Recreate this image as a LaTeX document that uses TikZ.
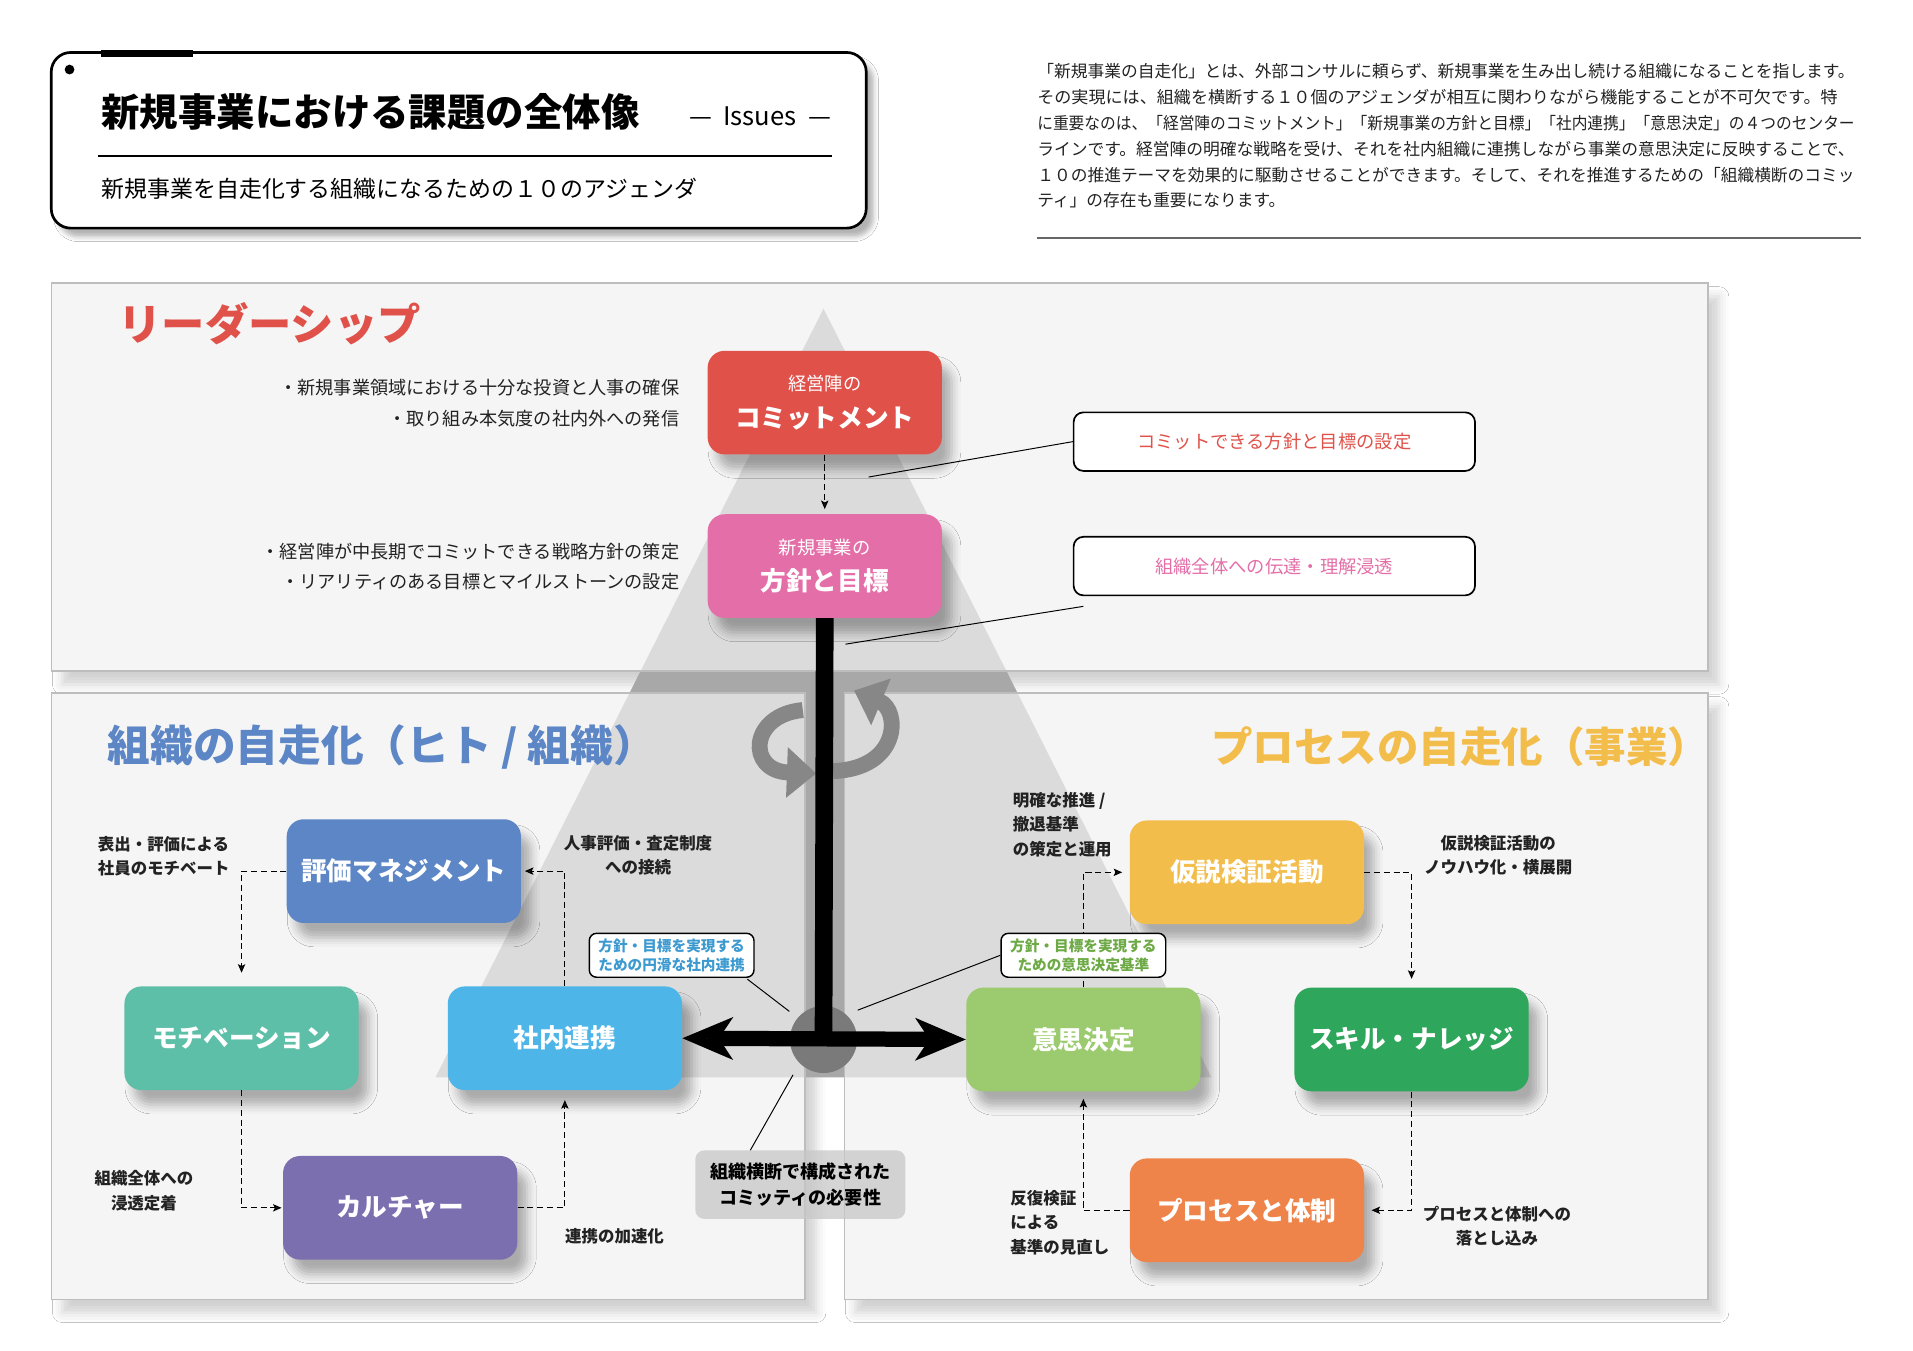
\documentclass[tikz,border=0pt]{standalone}
\usepackage{fontspec}
\usepackage{graphicx}
\setmainfont{Noto Sans CJK JP}
\usetikzlibrary{arrows.meta,shadows.blur,calc}
\definecolor{cRed}{HTML}{E0514A}
\definecolor{cPink}{HTML}{E46FA8}
\definecolor{cBlue}{HTML}{5C86C5}
\definecolor{cTeal}{HTML}{5EBFA8}
\definecolor{cSky}{HTML}{4DB5E8}
\definecolor{cPurple}{HTML}{7B6FB0}
\definecolor{cYellow}{HTML}{F3BD4C}
\definecolor{cLGreen}{HTML}{9BCB6E}
\definecolor{cGreen}{HTML}{2EA65B}
\definecolor{cOrange}{HTML}{EF844A}
\definecolor{cPanel}{HTML}{F5F5F5}
\definecolor{cPanelLine}{HTML}{BDBDBD}
\definecolor{cTri}{HTML}{A8A8A8}
\definecolor{cTxt}{HTML}{222222}
\definecolor{cCallBlue}{HTML}{3D9AD1}
\definecolor{cCallGreen}{HTML}{6DAA45}
\definecolor{cRot}{HTML}{878787}
\newcommand\fs[2]{\fontsize{#1}{#2}\selectfont}
\begin{document}
\begin{tikzpicture}[x=1pt,y=-1pt,
  box/.style={rounded corners=14pt, minimum width=192pt, minimum height=85pt, inner sep=0pt,
    text=white, align=center, font=\bfseries\fs{21}{26},
    blur shadow={shadow xshift=8pt,shadow yshift=-12pt,shadow blur radius=7.5pt,shadow opacity=30}},
  bul/.style={inner sep=0pt, text=cTxt, font=\fs{14.9}{18}},
  lbl/.style={inner sep=0pt, text=cTxt, font=\bfseries\fs{13.5}{20}},
  desc/.style={inner sep=0pt, anchor=west, text=cTxt, font=\fs{13.7}{16}},
  heading/.style={inner sep=0pt, font=\bfseries\fs{35.5}{40}},
  callbig/.style={draw, line width=1.4pt, fill=white, rounded corners=8pt, minimum width=329pt, minimum height=48pt, inner sep=0pt, font=\fs{15}{18}},
  callsmall/.style={draw, line width=1.2pt, fill=white, rounded corners=6pt, minimum width=135pt, minimum height=36pt, inner sep=0pt, align=center, font=\bfseries\fs{12}{16}},
  dcon/.style={line width=0.9pt, dash pattern=on 5pt off 3pt, -{Stealth[length=7pt,width=6pt,inset=1.5pt]}},
  thin/.style={line width=0.8pt},
  rotarrow/.style={draw=cRot, line width=13pt, -{Triangle[length=24pt,width=40pt]}},
  panelshadow/.style={blur shadow={shadow xshift=9pt,shadow yshift=-11pt,shadow blur radius=8pt,shadow opacity=18}}
]
\useasboundingbox (0,0) rectangle (1568,1107);
\fill[white] (0,0) rectangle (1568,1107);

% ---------- title box ----------
\node[draw, line width=2.2pt, rounded corners=16pt, fill=white, minimum width=668pt, minimum height=144pt,
  blur shadow={shadow xshift=6pt,shadow yshift=-7pt,shadow blur radius=4pt,shadow opacity=30}] (tbox) at (376,115) {};
\fill (83,41) rectangle (158,47);
\fill (57,57) circle (4);
\node[anchor=west, inner sep=0pt, font=\bfseries\fs{31.5}{36}] (ttl) at (83,92) {新規事業における課題の全体像};
\node[inner sep=0pt, font=\fs{21}{24}] (iss) at (623,95) {—\ \ Issues\ \ —};
\draw[line width=1.3pt] (80,128) -- (682,128);
\node[anchor=west, inner sep=0pt, font=\fs{18.8}{22}] (sub) at (83,155) {新規事業を自走化する組織になるための１０のアジェンダ};

% ---------- description ----------
\node[desc] (d1) at (850,58) {\resizebox{670pt}{\height}{「新規事業の自走化」とは、外部コンサルに頼らず、新規事業を生み出し続ける組織になることを指します。}};
\node[desc] (d2) at (850,79.3) {\resizebox{656pt}{\height}{その実現には、組織を横断する１０個のアジェンダが相互に関わりながら機能することが不可欠です。特}};
\node[desc] (d3) at (850,100.6) {\resizebox{670pt}{\height}{に重要なのは、「経営陣のコミットメント」「新規事業の方針と目標」「社内連携」「意思決定」の４つのセンター}};
\node[desc] (d4) at (850,122) {\resizebox{670pt}{\height}{ラインです。経営陣の明確な戦略を受け、それを社内組織に連携しながら事業の意思決定に反映することで、}};
\node[desc] (d5) at (850,143.2) {\resizebox{670pt}{\height}{１０の推進テーマを効果的に駆動させることができます。そして、それを推進するための「組織横断のコミッ}};
\node[desc] (d6) at (850,164.5) {ティ」の存在も重要になります。};
\draw[line width=1pt, black!60] (850,195) -- (1525,195);

% ---------- panels ----------
\fill[cPanel, panelshadow] (42,232) rectangle (1400,550);
\fill[cPanel, panelshadow] (42,568) rectangle (660,1065);
\fill[cPanel, panelshadow] (692,568) rectangle (1400,1065);
\fill[cTri] (675,253) -- (357,883) -- (993,883) -- cycle;
\filldraw[fill=cPanel, fill opacity=0.675, draw=cPanelLine, line width=1.2pt] (42,232) rectangle (1400,550);
\filldraw[fill=cPanel, fill opacity=0.675, draw=cPanelLine, line width=1.2pt] (42,568) rectangle (660,1065);
\filldraw[fill=cPanel, fill opacity=0.675, draw=cPanelLine, line width=1.2pt] (692,568) rectangle (1400,1065);

% ---------- headings ----------
\node[heading, anchor=west, text=cRed] (hLead) at (97,265) {リーダーシップ};
\node[heading, anchor=west, text=cBlue, font=\bfseries\fs{35}{40}] (hOrg) at (88,612) {組織の自走化（ヒト / 組織）};
\node[heading, anchor=east, text=cYellow, font=\bfseries\fs{34}{40}] (hProc) at (1401,612) {プロセスの自走化（事業）};

% ---------- leadership bullets ----------
\node[bul, anchor=east] (b1) at (557,318) {・新規事業領域における十分な投資と人事の確保};
\node[bul, anchor=east] (b2) at (557,343) {・取り組み本気度の社内外への発信};
\node[bul, anchor=east] (b3) at (557,452) {・経営陣が中長期でコミットできる戦略方針の策定};
\node[bul, anchor=east] (b4) at (557,477) {・リアリティのある目標とマイルストーンの設定};

% ---------- panel labels ----------
\node[lbl, anchor=west, align=left] (l1) at (80,702) {表出・評価による\\社員のモチベート};
\node[lbl, align=center] (l2) at (523,701) {人事評価・査定制度\\への接続};
\node[lbl, align=center] (l3) at (118,976) {組織全体への\\浸透定着};
\node[lbl, anchor=west] (l4) at (463,1013) {連携の加速化};
\node[lbl, anchor=west, align=left] (r1) at (830,676) {明確な推進 /\\撤退基準\\の策定と運用};
\node[lbl, align=center] (r2) at (1228,701) {仮説検証活動の\\ノウハウ化・横展開};
\node[lbl, anchor=west, align=left] (r3) at (828,1002) {反復検証\\による\\基準の見直し};
\node[lbl, align=center] (r4) at (1227,1005) {プロセスと体制への\\落とし込み};

% ---------- rotation arrows ----------
\draw[rotarrow] (658,582) .. controls (614,586) and (612,632) .. (669,634);
\draw[rotarrow] (683,632) .. controls (738,630) and (738,582) .. (700,566);

% ---------- boxes ----------
\node[box, fill=cRed] (commit) at (676,330) {{\mdseries\fs{15}{18}経営陣の}\\[4pt]コミットメント};
\node[box, fill=cPink] (policy) at (676,464) {{\mdseries\fs{15}{18}新規事業の}\\[4pt]方針と目標};
\node[box, fill=cBlue] (eval) at (331,714) {評価マネジメント};
\node[box, fill=cTeal] (motiv) at (198,851) {モチベーション};
\node[box, fill=cSky] (naibu) at (463,851) {社内連携};
\node[box, fill=cPurple] (cult) at (328,990) {カルチャー};
\node[box, fill=cYellow] (kasetsu) at (1022,715) {仮説検証活動};
\node[box, fill=cLGreen] (ishi) at (888,852) {意思決定};
\node[box, fill=cGreen] (skill) at (1157,852) {スキル・ナレッジ};
\node[box, fill=cOrange] (proc) at (1022,992) {プロセスと体制};

% ---------- center T ----------
\node[circle, fill=black!52, minimum size=55pt, inner sep=0pt] (hub) at (675,852) {};
\draw[line width=14.5pt] (policy.south) -- (hub.center);
\draw[line width=12.5pt, {Stealth[length=41pt,width=34pt,inset=11pt]}-{Stealth[length=41pt,width=34pt,inset=11pt]}] (naibu.east) -- (ishi.west);

% ---------- dashed connectors ----------
\draw[dcon, shorten >=4pt] (commit.south) -- (policy.north);
\draw[dcon, shorten >=11pt] (eval.west) -| (motiv.north);
\draw[dcon, shorten >=3pt] (naibu.north) |- (eval.east);
\draw[dcon, shorten >=1pt] (motiv.south) |- (cult.west);
\draw[dcon, shorten >=8pt] (cult.east) -| (naibu.south);
\draw[dcon, shorten >=6pt] (ishi.north) |- (kasetsu.west);
\draw[dcon, shorten >=7pt] (kasetsu.east) -| (skill.north);
\draw[dcon, shorten >=6pt] (skill.south) |- (proc.east);
\draw[dcon, shorten >=6pt] (proc.west) -| (ishi.south);

% ---------- callouts ----------
\node[callbig, text=cRed] (c1) at (1044.5,362) {コミットできる方針と目標の設定};
\node[callbig, text=cPink] (c2) at (1044.5,464) {組織全体への伝達・理解浸透};
\coordinate (c1p) at (712,391);
\coordinate (c2a) at (888,497);
\coordinate (c2p) at (693,528);
\draw[thin] (c1.west) -- (c1p);
\draw[thin] (c2a) -- (c2p);

\node[callsmall, text=cCallBlue] (cs1) at (550.5,783) {方針・目標を実現する\\ための円滑な社内連携};
\node[callsmall, text=cCallGreen] (cs2) at (888,783) {方針・目標を実現する\\ための意思決定基準};
\coordinate (cs1p) at (647,829);
\coordinate (cs2p) at (703,828);
\path (cs1.south east) ++(-6,1) coordinate (cs1a);
\draw[thin] (cs1a) -- (cs1p);
\draw[thin] (cs2.west) -- (cs2p);

\node[fill=black!22, fill opacity=0.75, text opacity=1, rounded corners=7pt, minimum width=172pt, minimum height=56pt, inner sep=0pt, align=center, font=\bfseries\fs{14.8}{21}] (comm) at (656,971) {組織横断で構成された\\コミッティの必要性};
\coordinate (commp) at (650,881);
\path ($(comm.north)+(-41,0)$) coordinate (comma);
\draw[thin] (comma) -- (commp);
\end{tikzpicture}
\end{document}
